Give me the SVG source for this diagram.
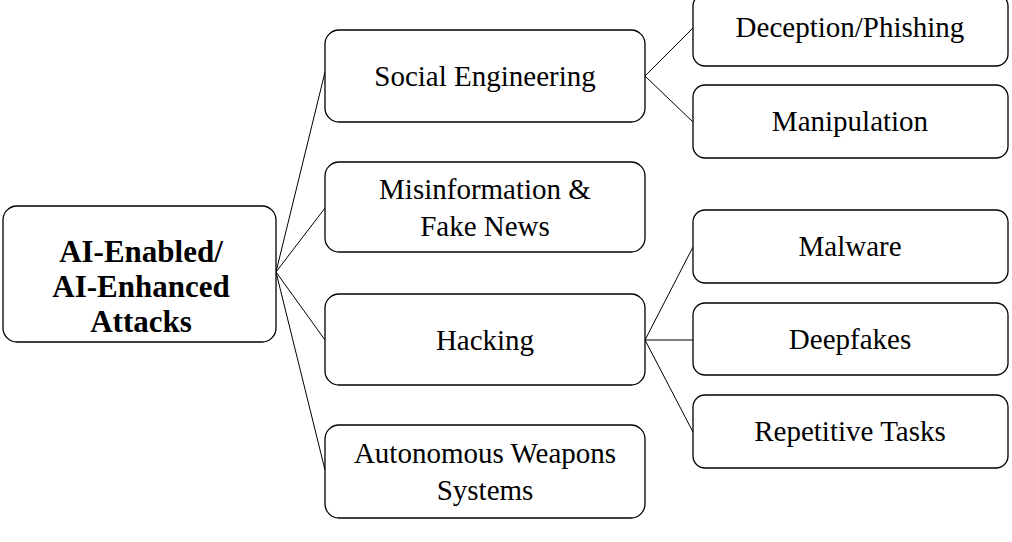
<svg xmlns="http://www.w3.org/2000/svg" width="1012" height="542" viewBox="0 0 1012 542">
<style>
rect{fill:#fff;stroke:#000;stroke-width:1.3}
text{font-family:"Liberation Serif",serif;font-size:29px;text-anchor:middle;fill:#000}
.b{font-weight:bold;font-size:31px}
line{stroke:#000;stroke-width:1}
</style>
<rect x="-10" y="-10" width="1032" height="562" style="fill:#fff;stroke:none"/>
<g id="connectors">
<line x1="276" y1="272" x2="325" y2="72"/>
<line x1="276" y1="272" x2="325" y2="208"/>
<line x1="276" y1="272" x2="325" y2="340"/>
<line x1="276" y1="272" x2="325" y2="470"/>
<line x1="645" y1="76" x2="693" y2="28"/>
<line x1="645" y1="76" x2="693" y2="122"/>
<line x1="645" y1="340" x2="693" y2="247"/>
<line x1="645" y1="340" x2="693" y2="340"/>
<line x1="645" y1="340" x2="693" y2="432"/>
</g>
<g id="root"><rect x="3" y="206" width="273" height="136" rx="14"/>
<text class="b" x="141" y="262">AI-Enabled/</text><text class="b" x="141" y="297">AI-Enhanced</text><text class="b" x="141" y="332">Attacks</text></g>
<g id="social"><rect x="325" y="30" width="320" height="92" rx="14"/><text x="485" y="86">Social Engineering</text></g>
<g id="misinfo"><rect x="325" y="162" width="320" height="90" rx="14"/><text x="485" y="199">Misinformation &amp;</text><text x="485" y="236">Fake News</text></g>
<g id="hacking"><rect x="325" y="294" width="320" height="91" rx="14"/><text x="485" y="350">Hacking</text></g>
<g id="autonomous"><rect x="325" y="425" width="320" height="93" rx="14"/><text x="485" y="463">Autonomous Weapons</text><text x="485" y="500">Systems</text></g>
<g id="deception"><rect x="693" y="-6" width="315" height="72" rx="12"/><text x="850" y="37">Deception/Phishing</text></g>
<g id="manipulation"><rect x="693" y="85" width="315" height="73" rx="12"/><text x="850" y="131">Manipulation</text></g>
<g id="malware"><rect x="693" y="210" width="315" height="73" rx="12"/><text x="850" y="256">Malware</text></g>
<g id="deepfakes"><rect x="693" y="303" width="315" height="72" rx="12"/><text x="850" y="349">Deepfakes</text></g>
<g id="repetitive"><rect x="693" y="395" width="315" height="73" rx="12"/><text x="850" y="441">Repetitive Tasks</text></g>
</svg>
